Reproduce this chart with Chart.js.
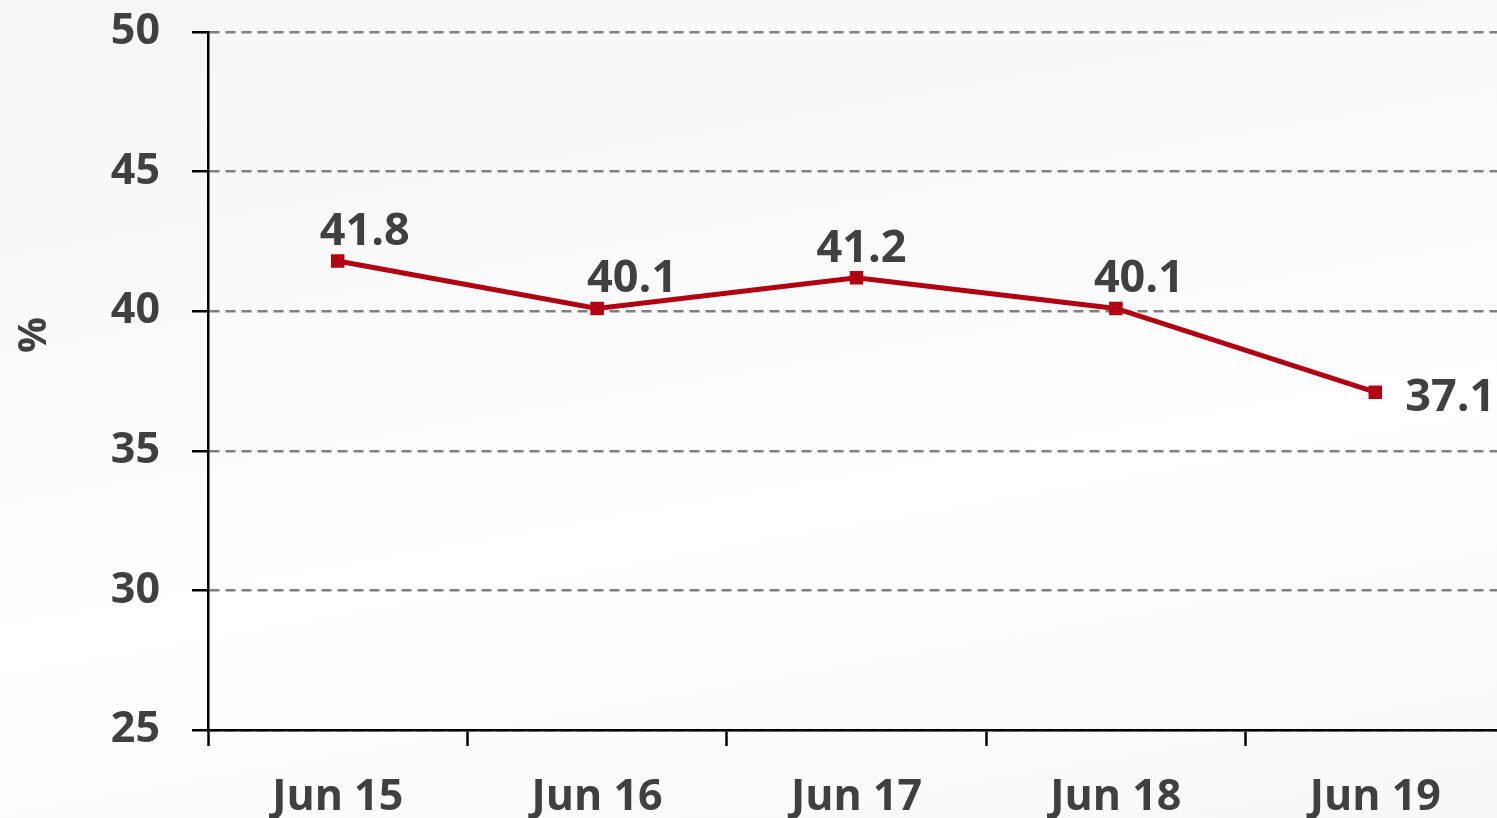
<!DOCTYPE html>
<html>
<head>
<meta charset="utf-8">
<script src="https://cdn.jsdelivr.net/npm/chart.js@4.4.1/dist/chart.umd.min.js"></script>
<style>
  html, body { margin: 0; padding: 0; overflow: hidden; }
  body { width: 1497px; height: 818px; background: linear-gradient(170deg, #f6f6f6 0%, #fbfbfb 40%, #ffffff 60%, #f8f8f8 100%); }
  #wrap { width: 1516px; height: 818px; }
</style>
</head>
<body>
<div id="wrap"><canvas id="chart" width="1516" height="818"></canvas></div>
<script>
// ── Data ─────────────────────────────────────────────
const categories = ['Jun 15', 'Jun 16', 'Jun 17', 'Jun 18', 'Jun 19'];
const values = [41.8, 40.1, 41.2, 40.1, 37.1];
const yTicks = [25, 30, 35, 40, 45, 50];

const TEXT = '#404040';
const RED = '#b00012';
const FONT = '"Open Sans", "DejaVu Sans", sans-serif';

// data labels (no datalabels plugin available offline)
const labelPlugin = {
  id: 'valueLabels',
  afterDatasetsDraw(chart) {
    const ctx = chart.ctx;
    const meta = chart.getDatasetMeta(0);
    ctx.save();
    ctx.font = `bold 45px ${FONT}`;
    ctx.fillStyle = TEXT;
    meta.data.forEach((pt, i) => {
      const txt = values[i].toFixed(1);
      if (i === values.length - 1) {
        ctx.textAlign = 'left';
        ctx.textBaseline = 'middle';
        ctx.fillText(txt, pt.x + 30, pt.y + 6);
      } else {
        ctx.textAlign = 'center';
        ctx.textBaseline = 'alphabetic';
        const dx = i === 0 ? 27 : (i === 1 ? 35 : (i === 2 ? 5 : 23));
        ctx.fillText(txt, pt.x + dx, pt.y - 16);
      }
    });
    // rotated axis title
    ctx.translate(35, 335);
    ctx.rotate(-Math.PI / 2);
    ctx.textAlign = 'center';
    ctx.textBaseline = 'middle';
    ctx.font = `bold 40px ${FONT}`;
    ctx.fillText('%', 0, 0);
    ctx.restore();
  }
};

new Chart(document.getElementById('chart').getContext('2d'), {
  type: 'line',
  data: {
    labels: categories,
    datasets: [{
      data: values,
      borderColor: RED,
      backgroundColor: RED,
      borderWidth: 5,
      pointStyle: 'rect',
      pointRadius: 6,
      pointHoverRadius: 6,
      tension: 0,
      clip: false
    }]
  },
  options: {
    responsive: false,
    animation: false,
    layout: { padding: { top: 32, left: 0, right: 0, bottom: 0 } },
    plugins: { legend: { display: false }, tooltip: { enabled: false } },
    scales: {
      x: {
        offset: true,
        grid: {
          offset: true, drawOnChartArea: false, drawTicks: true,
          tickLength: 16, tickColor: '#000', tickWidth: 2.5
        },
        border: { color: '#000', width: 2.5 },
        ticks: { color: TEXT, font: { family: FONT, size: 43, weight: 'bold' }, padding: 26, maxRotation: 0 },
        afterFit: s => { s.height = 88; s.paddingLeft = 0; s.paddingRight = 0; }
      },
      y: {
        min: 25, max: 50,
        afterBuildTicks: s => { s.ticks = yTicks.map(v => ({ value: v })); },
        grid: {
          color: '#808080', lineWidth: 2.5, drawTicks: true,
          tickLength: 16, tickColor: '#000', tickWidth: 2.5
        },
        border: { color: '#000', width: 2.5, dash: [10, 6] },
        ticks: { color: TEXT, font: { family: FONT, size: 43, weight: 'bold' }, padding: 32 },
        afterFit: s => { s.width = 208; s.paddingTop = 0; s.paddingBottom = 0; }
      }
    }
  },
  plugins: [labelPlugin]
});
</script>
</body>
</html>
